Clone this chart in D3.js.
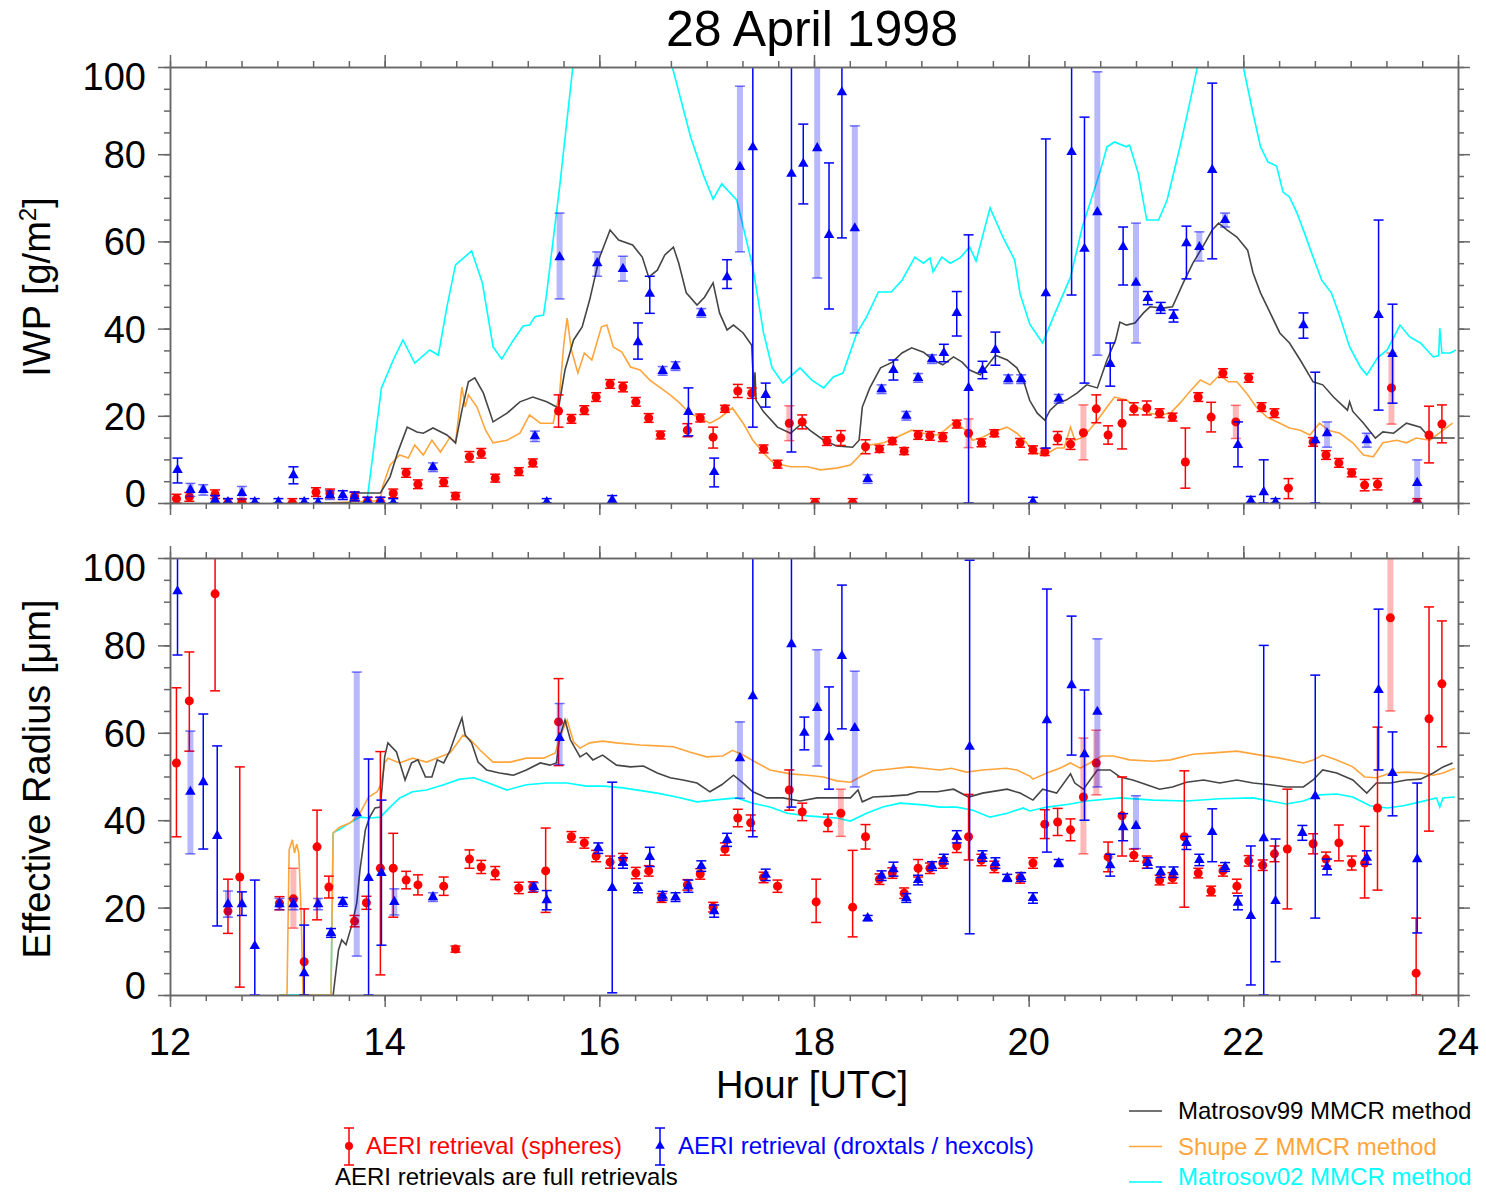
<!DOCTYPE html>
<html lang="en">
<head>
<meta charset="UTF-8">
<title>28 April 1998</title>
<script src="https://cdn.jsdelivr.net/npm/d3@7/dist/d3.min.js"></script>
<style>
  body { margin: 0; background: #fff; }
  svg { display: block; font-family: "Liberation Sans", Arial, Helvetica, sans-serif; }
  .ax path.domain, .ax line { stroke: #666; stroke-width: 1.5; }
</style>
</head>
<body>
<svg id="chart" width="1486" height="1192"></svg>
<script>
'use strict';

// ---- data ----
const hourTicks = [12, 14, 16, 18, 20, 22, 24];
const valueTicks = [0, 20, 40, 60, 80, 100];

// AERI points: [hour, value, low, high, wide bar flag]
const iwpSph = [
  [12.06,1,0,2],[12.18,1.4,0.4,2.4],[12.42,2,1,3],[12.54,0,0,1],[12.67,0.2,0,1],[13.14,0,0,1],
  [13.36,2.5,1.5,3.5],[13.49,2.2,1.2,3.2],[13.72,1.5,0.5,2.5],[13.84,0.3,0,1.3],[13.96,0.3,0,1.3],
  [14.08,2.2,1.2,3.2],[14.20,6.9,5.9,7.9],[14.31,4.3,3.3,5.3],[14.55,4.8,3.8,5.8],[14.66,1.6,0.8,2.4],
  [14.79,10.6,9.4,11.8],[14.90,11.4,10.3,12.5],[15.03,5.7,4.8,6.6],[15.25,7.2,6.3,8.1],[15.38,9.2,8.3,10.1],
  [15.62,21.1,17.4,24.8],[15.74,19.3,18.3,20.3],[15.86,21.3,20.3,22.3],[15.97,24.3,23.3,25.3],
  [16.10,27.3,26.3,28.3],[16.22,26.6,25.5,27.7],[16.34,23.2,22.2,24.2],[16.46,19.5,18.5,20.5],
  [16.57,15.6,14.7,16.5],[16.82,16.7,15.2,18.2],[16.94,19.5,18.6,20.4],[17.06,15.1,12.6,17.4],
  [17.17,21.6,20.8,22.4],[17.29,25.7,24.2,27.2],[17.42,25.2,24,26.4],[17.53,12.4,11.5,13.3],
  [17.66,8.9,8,9.8],[17.77,18.3,14.3,22.3,1],[17.89,18.6,17,20.2],[18.01,0,0,1],[18.12,14.2,13.2,15.2],
  [18.25,14.9,13.2,16.6],[18.36,0,0,1],[18.48,12.9,11.3,14.5],[18.61,12.4,11.6,13.2],[18.73,14.2,13.4,15],
  [18.84,11.9,11.1,12.7],[18.97,15.6,14.6,16.6],[19.08,15.4,14.4,16.4],[19.20,15.1,14.1,16.1],
  [19.33,18.1,17.2,19],[19.44,16,12.7,19.3,1],[19.56,13.8,12.9,14.7],[19.68,16,15.2,16.8],
  [19.92,13.8,12.8,14.8],[20.04,12.2,11.3,13.1],[20.15,11.7,10.9,12.5],[20.27,14.9,13.4,16.4],
  [20.39,13.5,12.3,14.7],[20.51,16.1,9.9,22.5,1],[20.63,21.6,18.4,24.8],[20.74,15.6,13.5,17.7],
  [20.87,18.3,12.4,23.6],[20.98,21.6,20.2,23],[21.10,21.8,20.2,23.4],[21.22,20.6,19.6,21.6],
  [21.34,19.7,18.8,20.6],[21.46,9.4,3.4,17.2],[21.58,24.3,23.3,25.3],[21.70,19.7,16.3,23.1],
  [21.81,29.8,28.8,30.8],[21.93,18.6,14.8,22.4,1],[22.05,28.7,27.7,29.7],[22.17,22,21,23],
  [22.29,20.6,19.6,21.6],[22.42,3.4,1,5.6],[22.65,14,13,15],[22.77,11,10,12],[22.89,9.2,8.2,10.2],
  [23.01,6.9,6,7.8],[23.13,4.1,2.8,5.4],[23.25,4.3,3,5.6],[23.38,26.4,18.1,34.4,1],[23.62,0,0,1],
  [23.73,15.6,9.2,22.2],[23.85,18.1,13.8,22.5]
];
const iwpDrox = [
  [12.07,7.6,4.6,10.3],[12.19,3,1.5,4.5,1],[12.31,3,1.8,4.2,1],[12.42,0.7,0,1.7],[12.54,0.2,0,1],
  [12.67,2.3,0.8,3.8,1],[12.79,0.2,0,1],[13.01,0.2,0,1],[13.15,6.4,4.4,8.3],[13.25,0.2,0,1],
  [13.38,0.1,0,1],[13.49,1.8,0.8,2.8,1],[13.61,1.8,0.8,2.8],[13.72,1.5,0.5,2.5],[13.84,0.3,0,1.3],
  [13.96,0.3,0,1.3],[14.08,0.1,0,1],[14.45,8.2,7.2,9.2,1],[15.40,15.3,14.1,16.5,1],[15.51,0.2,0,1],
  [15.63,56.4,46.8,66.5,1],[15.98,55,52,57.6,1],[16.12,0.7,0,1.7],[16.22,53.7,50.9,56.6,1],
  [16.36,36.9,33,41.3],[16.47,48,43.5,52],[16.59,30.3,29.3,31.3,1],[16.71,31.4,30.4,32.4,1],
  [16.83,20.9,15.4,26.4],[16.95,43.6,42.6,44.6,1],[17.07,7.1,3.7,10.3],[17.19,51.8,49.2,55.8],
  [17.31,77.1,57.6,95.6,1],[17.43,81.6,17.4,120],[17.55,24.8,22,27.5],[17.79,75.5,11.7,120],
  [17.90,77.8,68.6,86.9],[18.03,81.4,51.6,120,1],[18.14,61.5,44.5,78],[18.26,94.2,60.8,120],
  [18.38,63,39,86.5,1],[18.50,5.5,4.5,6.5,1],[18.63,26.1,25.1,27.1,1],[18.74,30.5,28.2,32.8],
  [18.86,20,19,21,1],[18.97,28.7,27.7,29.7,1],[19.10,33,32,34,1],[19.21,34.4,32.4,36.4],
  [19.33,43.6,38.3,48.5],[19.44,26.4,0,61.5],[19.57,30.5,28.5,32.5],[19.69,35.1,31.6,39.2],
  [19.81,28.4,27.4,29.4,1],[19.93,28.4,27.4,29.4,1],[20.04,0.3,0,1.3],[20.16,48.1,12.6,83.5],
  [20.28,23.9,22.9,24.9,1],[20.40,80.5,47.7,120],[20.52,58.3,27.5,88.5],[20.64,66.7,33.9,98.9,1],
  [20.76,31.9,26.8,36.7],[20.88,58.7,50,63.3],[21.00,50.5,36.7,64.2,1],[21.11,47,45.5,48.5],
  [21.23,44.7,43.5,46],[21.35,42.9,41.5,44.3],[21.47,59.6,51.4,63.5],[21.59,58.7,55.5,62.2,1],
  [21.71,76.4,56,96.3],[21.83,64.9,63.3,66.5,1],[21.95,13.3,8.3,18.6],[22.07,0.5,0,1.5],
  [22.19,2.5,0,9.9],[22.30,0.2,0,1],[22.56,40.8,37.8,43.6],[22.67,14.4,0,30],[22.78,16,12.8,18.6,1],
  [23.15,14.4,12.8,16,1],[23.26,43.1,21.3,64.9],[23.39,34.2,22.9,45.6],[23.62,4.6,0,9.9,1]
];
const reSph = [
  [12.06,53.1,36.2,70.3],[12.18,67.3,55.8,78.5],[12.42,91.8,69.6,120],[12.54,19.2,14.1,26.5],
  [12.65,27,1.8,52.2],[13.02,21,19.5,22.5],[13.15,22,15.3,29,1],[13.25,7.6,0,19.7],[13.37,33.9,17.2,42.3],
  [13.48,24.7,22.2,27.2],[13.72,16.9,15.6,18.2],[13.83,21.1,19.6,22.6],[13.96,29,4.6,55.7],
  [14.08,29,17.8,37],[14.20,26.3,24.3,28.3],[14.31,25.2,22.9,27.5],[14.55,24.9,22.8,27],
  [14.66,10.5,9.8,11.2],[14.79,31.1,29,33.2],[14.90,29.3,27.8,30.8],[15.03,27.9,26.4,29.4],
  [15.25,24.5,23.2,25.8],[15.38,24.7,23.5,25.9],[15.50,28.4,18.9,38.2],[15.62,62.5,52.5,72.4],
  [15.74,36.2,35,37.4],[15.86,34.8,33.6,36],[15.97,31.8,30.5,33.1],[16.10,30.4,29,31.8],
  [16.22,31.1,29.8,32.4],[16.34,27.9,26.6,29.2],[16.46,28.4,27.2,29.6],[16.58,22.2,21.2,23.2],
  [16.82,25.2,24,26.4],[16.94,27.7,26.5,28.9],[17.06,20.1,19,21.2],[17.17,33.4,32,34.8],
  [17.29,40.5,38.5,42.5],[17.41,39.4,37.6,41.2],[17.53,26.9,25.7,28.1],[17.66,24.9,23.5,26.3],
  [17.77,46.9,42.3,51.5],[17.89,41.9,39.9,43.9],[18.02,21.3,16.6,26.5],[18.13,39.4,37.4,41.4],
  [18.25,41.6,36.3,47.1,1],[18.36,20.1,13.3,33.1],[18.48,36.2,33.4,39],[18.61,26.5,25.3,27.7],
  [18.73,27.9,26.7,29.1],[18.84,23.3,22.1,24.5],[18.97,29,27,31],[19.08,29,27.8,30.2],
  [19.20,30.2,29,31.4],[19.33,34.1,32.6,35.6],[19.44,36.2,30.9,45.9],[19.56,30.9,29.6,32.2],
  [19.68,29.3,28,30.6],[19.92,26.8,25.6,28],[20.04,30.2,29,31.4],[20.15,39.1,35.8,42.4],
  [20.27,39.6,36.5,42.7],[20.39,37.8,35.3,40.3],[20.51,45.3,32.3,58.8,1],[20.63,53.1,45.8,60.6,1],
  [20.74,31.6,28.2,35],[20.87,41,31.8,49.9],[20.98,32,30.6,33.4],[21.10,30.4,29,31.8],
  [21.22,26.3,25.2,27.4],[21.34,26.8,25.6,28],[21.45,36.2,20.1,51.3],[21.58,27.9,26.8,29],
  [21.70,23.8,22.7,24.9],[21.81,28.4,27.2,29.6],[21.94,24.9,23.3,26.5],[22.05,30.7,29.5,31.9],
  [22.18,29.7,28.5,30.9],[22.29,32.3,30.5,34.1],[22.41,33.4,19.7,47.1],[22.65,34.6,32.3,36.9],
  [22.77,31.1,29.5,32.7],[22.89,34.8,30.7,38.9],[23.01,30.2,28.6,31.8],[23.13,30.2,22.2,38.6],
  [23.25,42.8,24,61.3],[23.37,86.3,65,120,1],[23.61,5,0,17.6],[23.73,63.2,37.5,88.8],[23.85,71.2,56.8,85.6]
];
const reDrox = [
  [12.07,92.4,77.8,120],[12.19,46.5,32.3,60.4,1],[12.31,48.7,33.4,64.3],[12.44,36.4,15.8,57],
  [12.54,20.8,17.8,23.8,1],[12.67,20.8,18.2,23.6],[12.79,11.2,0,26.3],[13.02,20.8,19.5,22.1,1],
  [13.15,20.8,19.5,22.1,1],[13.25,5,0,16],[13.38,20.8,19.5,22.1,1],[13.50,14.2,13.2,15.2],
  [13.61,21.3,20.3,22.3],[13.74,41.6,8.9,73.9,1],[13.85,26.8,0,54],[13.97,27.9,11.4,44.6],
  [14.09,21.3,18.3,24.3,1],[14.45,22.4,21.4,23.4,1],[15.39,24.7,23.7,25.7,1],[15.51,21.7,19.5,23.9],
  [15.63,58.8,52.7,66.7,1],[15.99,33.6,32.4,34.8],[16.12,24.5,0.5,48.7],[16.22,30.2,29,31.4],
  [16.36,24.5,23.4,25.6],[16.47,31.6,29.4,33.8],[16.59,22.7,21.7,23.7],[16.71,22.4,21.4,23.4],
  [16.83,24.9,23.5,26.3],[16.95,29.5,28.3,30.7],[17.07,19.2,17.8,20.6],[17.19,35.5,34,37],
  [17.31,54.2,45,62.5,1],[17.43,68.4,36.2,120],[17.55,27.5,26.2,28.8],[17.79,80.3,43,120],
  [17.91,60,56.1,63.6],[18.03,65.7,52.4,79,1],[18.14,59,47.1,70.5],[18.26,77.6,60.9,93.8],
  [18.38,61.1,47.6,74.1,1],[18.50,17.6,17,18.2],[18.63,27.3,26.2,28.4],[18.74,28.8,27.2,30.4],
  [18.86,22.2,21.2,23.2],[18.97,26.3,25.2,27.4],[19.10,29.5,28.5,30.5],[19.21,31.1,30,32.2],
  [19.33,36.2,34.8,37.6],[19.45,56.8,14,99.5],[19.57,31.8,30.6,33],[19.69,30.2,29,31.4],
  [19.80,26.8,26,27.6],[19.93,27,26,28],[20.04,22.2,21,23.4],[20.17,62.9,32.7,92.9],
  [20.28,30.2,29.4,31],[20.40,70.9,54.9,86.7],[20.52,55.1,40,69.8],[20.64,64.8,47.6,81.5,1],
  [20.76,29.7,27.2,32.2],[20.88,38.4,35.3,41.5],[21.00,38.7,33.5,45.6,1],[21.11,30.2,29,31.4],
  [21.23,28.1,26.9,29.3],[21.35,28.1,26.9,29.3],[21.47,34.8,33.3,36.3],[21.59,30.9,29.6,32.2],
  [21.71,37.3,30.5,42.6],[21.83,29.3,28.3,30.3],[21.95,21.1,19.5,22.7],[22.07,18.1,2.3,34.1],
  [22.19,35.9,0,80],[22.30,21.5,7.6,35.7],[22.55,37.1,35.4,38.8],[22.67,45.5,17.6,73.2],
  [22.78,29.3,27.5,31.1],[23.15,31.4,29.9,33],[23.26,69.8,51.5,88.3],[23.39,50.8,41,60.2],
  [23.62,31.1,14.2,48.5]
];

// MMCR retrievals: [hour, value]
const iwpM99 = [
  [13.43,0],[13.68,0],[13.70,2.3],[13.96,2.3],[14.05,6],[14.12,11.5],[14.21,17.4],[14.30,16.3],[14.36,16],
  [14.45,17.2],[14.58,15.6],[14.66,13.8],[14.72,21.3],[14.78,27.8],[14.84,28.7],[14.92,25.2],[15.01,18.6],
  [15.14,20.6],[15.26,23.2],[15.38,24.3],[15.51,23.2],[15.62,21.8],[15.68,30.5],[15.76,37.4],[15.84,40.4],
  [15.91,46.6],[16.00,56.2],[16.10,62.6],[16.18,60.3],[16.31,59.2],[16.40,56.4],[16.46,51.8],[16.54,53.4],
  [16.61,56.9],[16.69,58.7],[16.74,55],[16.81,48.2],[16.91,45.4],[16.98,47.2],[17.06,50.5],[17.12,43.6],
  [17.19,39.7],[17.25,40.8],[17.34,39],[17.42,36.2],[17.44,24.8],[17.45,30],[17.46,23.6],[17.53,20.9],
  [17.66,17.4],[17.78,16],[17.89,18.3],[17.96,16.7],[18.09,14.4],[18.21,13.1],[18.36,12.8],[18.42,14.4],
  [18.45,22],[18.52,26.4],[18.62,31],[18.73,32.3],[18.82,34.4],[18.91,35.6],[19.02,34.6],[19.11,32.8],
  [19.20,31.7],[19.30,33.5],[19.38,32.3],[19.45,30.5],[19.55,29.4],[19.64,32.3],[19.69,33.9],[19.80,32.8],
  [19.89,31],[19.95,28.2],[20.01,23.5],[20.08,20.6],[20.15,19],[20.20,21.3],[20.27,22.9],[20.35,23.6],
  [20.45,25.2],[20.54,27.1],[20.64,26.4],[20.73,32.8],[20.81,37.4],[20.85,41.5],[20.91,40.8],[20.99,41.3],
  [21.07,43.6],[21.13,45],[21.25,44.7],[21.34,45],[21.44,50.5],[21.53,55],[21.62,58.7],[21.71,62.6],
  [21.77,64.2],[21.85,62.6],[21.94,61],[22.04,58],[22.09,52.8],[22.16,48.2],[22.25,43.6],[22.34,39],
  [22.43,36.7],[22.53,32.8],[22.65,27.8],[22.74,27.1],[22.84,24.3],[22.97,21.3],[22.99,23.2],[23.02,21],
  [23.12,18.3],[23.23,14.9],[23.30,16.3],[23.40,16],[23.52,18.3],[23.65,17.4],[23.74,14.9],[23.97,14.9]
];
const iwpShupe = [
  [13.43,0],[13.96,0.5],[13.98,3.7],[14.05,8.7],[14.14,11],[14.22,10.3],[14.28,13.3],[14.36,11],[14.44,14.4],
  [14.52,11.7],[14.61,15.1],[14.66,13.8],[14.72,26.6],[14.75,22],[14.78,24.8],[14.86,22],[14.94,16.7],
  [15.01,13.8],[15.14,14.4],[15.26,16],[15.35,20.2],[15.45,18.3],[15.57,18.3],[15.63,25.2],[15.67,36.7],
  [15.70,42.4],[15.74,35.1],[15.80,29.8],[15.86,34.4],[15.93,32.8],[16.02,40.4],[16.07,40.8],[16.13,35.8],
  [16.21,34.6],[16.29,31.2],[16.38,30.5],[16.47,28.2],[16.57,26.4],[16.66,24.8],[16.75,22.9],[16.84,20.6],
  [16.94,19.5],[17.03,18.3],[17.12,19.5],[17.24,21.8],[17.34,18.3],[17.43,14.4],[17.53,11.5],[17.62,9.2],
  [17.78,8.3],[17.94,8.3],[18.06,7.6],[18.21,8],[18.34,8.7],[18.43,11],[18.52,13.3],[18.65,13.8],
  [18.77,15.1],[18.91,16.7],[19.02,16],[19.15,15.6],[19.22,16.7],[19.31,18.6],[19.41,16.7],[19.48,14.4],
  [19.57,15.1],[19.67,16.3],[19.80,17.4],[19.89,16],[19.98,13.8],[20.04,11.7],[20.15,11],[20.26,12.6],
  [20.33,12.6],[20.39,17.4],[20.43,14.4],[20.51,15.1],[20.64,19],[20.73,22],[20.80,24.3],[20.91,23.6],
  [21.01,22],[21.13,20.6],[21.22,20.2],[21.32,20.6],[21.41,22.9],[21.50,25.5],[21.60,28.2],[21.69,27.1],
  [21.78,29.4],[21.86,27.8],[21.94,27.8],[22.03,25.2],[22.12,22],[22.22,19.7],[22.34,18.3],[22.43,17.2],
  [22.53,16.7],[22.62,15.6],[22.71,18.3],[22.79,16.7],[22.90,16],[23.02,13.8],[23.12,11],[23.21,10.6],
  [23.30,13.8],[23.43,14.4],[23.52,13.8],[23.61,14.9],[23.74,14.4],[23.86,16.7],[23.95,18.3]
];
const iwpM02 = [
  [13.43,0],[13.80,0],[13.84,1.4],[13.97,26.4],[14.08,32.8],[14.17,37.4],[14.28,32.1],[14.42,35.1],
  [14.50,33.9],[14.58,45],[14.66,54.6],[14.81,57.8],[14.91,50.5],[15.01,35.8],[15.09,33],[15.20,37.4],
  [15.29,40.6],[15.35,40.8],[15.40,42.7],[15.48,43.1],[15.51,48.2],[15.63,72.5],[15.75,99.3],[15.85,120],
  [16.60,120],[16.68,100],[16.85,84],[16.97,75.2],[17.06,69.7],[17.14,73.2],[17.28,69.5],[17.43,54.1],
  [17.53,39],[17.61,31],[17.71,27.5],[17.87,31],[17.98,28.2],[18.09,26.4],[18.18,28.9],[18.27,29.8],
  [18.40,39],[18.49,42.7],[18.60,48.4],[18.72,48.4],[18.82,51.1],[18.94,56.4],[19.02,55],[19.08,56.2],
  [19.11,53],[19.19,56.4],[19.27,55],[19.36,56.2],[19.45,58.7],[19.51,55.5],[19.64,67.7],[19.76,61],
  [19.87,55.7],[19.92,48],[20.01,41],[20.13,36.7],[20.23,42.7],[20.39,51.8],[20.50,63.3],[20.59,70.2],
  [20.67,76.4],[20.73,81.7],[20.80,82.8],[20.91,81.7],[20.94,82.1],[21.02,75.7],[21.10,64.9],[21.21,64.9],
  [21.29,69.5],[21.41,81.7],[21.50,91.7],[21.57,99.8],[21.65,115],[21.92,115],[22.00,100],[22.09,89.4],
  [22.16,81.7],[22.23,78.2],[22.31,77.3],[22.37,71.3],[22.43,70.2],[22.50,66.5],[22.57,61.9],[22.65,56.4],
  [22.73,51.1],[22.82,48.2],[22.90,42.7],[22.99,35.8],[23.09,31.2],[23.15,29.4],[23.25,33.3],[23.34,35.1],
  [23.46,40.8],[23.55,38.1],[23.65,36.7],[23.77,33.5],[23.82,33.8],[23.83,40.1],[23.85,34.4],[23.93,34.4],
  [23.98,35.1]
];
const reM99 = [
  [13.52,0],[13.57,10.3],[13.60,12.6],[13.64,11.5],[13.70,16.5],[13.74,21.1],[13.77,28.6],[13.82,37.8],
  [13.86,40.7],[13.91,42.8],[13.96,43],[14.00,54.5],[14.03,57.7],[14.11,55.6],[14.19,49.2],[14.25,53.1],
  [14.31,53.8],[14.38,49.9],[14.44,49.9],[14.49,53.8],[14.55,53.1],[14.61,56],[14.67,60.2],[14.72,63.4],
  [14.75,59.5],[14.81,57.7],[14.87,53.3],[14.95,51.5],[15.07,50.8],[15.20,50.3],[15.32,51.5],[15.45,53.1],
  [15.54,52.6],[15.60,53.1],[15.63,59],[15.68,62.9],[15.73,58.4],[15.82,54.5],[15.88,55.4],[15.94,53.8],
  [16.03,54.9],[16.16,52.6],[16.29,52.2],[16.41,52.4],[16.54,50.8],[16.66,49.7],[16.78,49.2],[16.91,48.5],
  [17.03,46.5],[17.14,48.1],[17.25,50.3],[17.34,48.5],[17.43,46.5],[17.56,45.1],[17.71,45.1],[17.87,44.4],
  [18.03,45.1],[18.15,45.1],[18.34,45.1],[18.41,46.9],[18.45,44.2],[18.55,45.3],[18.71,45.5],[18.87,45.8],
  [18.97,46.5],[19.15,46.5],[19.30,47.1],[19.44,45.3],[19.57,46.2],[19.80,47.1],[19.92,46.2],[20.04,44.6],
  [20.13,47.1],[20.26,46.2],[20.39,50.6],[20.43,48.5],[20.51,47.1],[20.64,51.5],[20.76,51.5],[20.85,49.9],
  [20.97,49.2],[21.10,48.1],[21.22,47.1],[21.34,47.6],[21.47,48.7],[21.63,49.2],[21.78,48.5],[21.94,49.2],
  [22.09,48.5],[22.25,48.1],[22.40,47.6],[22.56,47.6],[22.65,49.2],[22.74,51.5],[22.87,50.8],[23.02,49.2],
  [23.15,46.2],[23.24,48.5],[23.37,48.5],[23.52,49.2],[23.65,49.4],[23.77,50.8],[23.86,52.2],[23.95,53.1]
];
const reShupe = [
  [13.02,0],[13.09,0],[13.11,33.2],[13.14,35.5],[13.16,32.5],[13.18,34.5],[13.20,32.5],[13.22,20],[13.24,0],
  [13.50,0],[13.52,37.1],[13.58,38.4],[13.68,39.4],[13.77,41.6],[13.85,45.3],[13.93,46.5],[13.97,48.5],
  [14.00,53.1],[14.03,54.2],[14.14,53.1],[14.26,54.2],[14.39,53.3],[14.52,54.5],[14.61,55.4],[14.70,58.4],
  [14.73,59.5],[14.80,58.4],[14.89,56],[15.01,53.3],[15.17,53.3],[15.32,54.2],[15.48,54.2],[15.59,55.4],
  [15.63,59],[15.70,62.9],[15.76,57.9],[15.82,56.5],[15.91,57.7],[16.03,58.1],[16.16,57.7],[16.38,57.2],
  [16.54,57],[16.69,56.8],[16.84,55.6],[17.00,54.5],[17.15,54.7],[17.24,56],[17.34,54.9],[17.47,53.1],
  [17.59,51.5],[17.78,50.6],[17.94,50.3],[18.09,49.9],[18.21,49],[18.34,48.7],[18.43,49.9],[18.55,51.3],
  [18.71,51.7],[18.89,52.2],[19.02,51.9],[19.17,51.5],[19.28,51.9],[19.42,51],[19.57,51.5],[19.79,51.9],
  [19.89,51.5],[20.01,50.1],[20.04,49.4],[20.17,50.8],[20.29,51.9],[20.39,53.1],[20.48,51.9],[20.57,53.1],
  [20.68,54.7],[20.79,54.7],[20.94,53.8],[21.16,53.5],[21.32,53.8],[21.53,55.1],[21.72,55.4],[21.94,55.8],
  [22.16,54.9],[22.34,54.2],[22.56,53.1],[22.65,53.8],[22.74,54.9],[22.87,53.8],[23.02,52.2],[23.13,49.9],
  [23.24,49.7],[23.37,50.8],[23.52,51],[23.65,50.8],[23.77,50.3],[23.86,50.8],[23.97,51.9]
];
const reM02 = [
  [13.02,0],[13.50,0],[13.52,37.1],[13.60,38.2],[13.69,39.6],[13.77,40.7],[13.86,40.5],[13.96,40.7],
  [14.05,43],[14.14,45.1],[14.26,46.5],[14.39,46.9],[14.55,48.1],[14.70,49.4],[14.83,49.7],[14.95,48.7],
  [15.14,46.9],[15.32,48.1],[15.51,48.5],[15.70,48.5],[15.88,47.8],[16.05,47.8],[16.22,47.4],[16.54,46.2],
  [16.72,45.3],[16.91,44.2],[17.06,44.6],[17.28,45.1],[17.43,43.9],[17.59,43],[17.75,41.6],[17.94,41],
  [18.09,40.7],[18.21,40.5],[18.34,39.8],[18.49,41.6],[18.64,43],[18.80,43.9],[19.02,43.5],[19.17,43],
  [19.33,43],[19.48,42.3],[19.64,40.7],[19.80,41.6],[19.95,42.8],[20.01,42.1],[20.17,43],[20.39,43.7],
  [20.54,44.4],[20.85,45.1],[21.16,44.6],[21.47,44.4],[21.78,44.9],[22.09,45.1],[22.40,43.7],[22.56,44.4],
  [22.71,45.8],[22.87,46],[23.02,45.3],[23.18,43.3],[23.34,42.8],[23.49,43.3],[23.65,44.2],[23.80,45.1],
  [23.83,43],[23.86,45.1],[23.97,45.3]
];

const C = { red: '#ff0000', blue: '#0000ff', m99: '#454545', shupe: '#ffa53c', m02: '#00ffff' };

// ---- drawing ----
const svg = d3.select('#chart');
const x = d3.scaleLinear().domain([12, 24]).range([170, 1458]);
const minorHours = d3.range(0, 37).map(i => 12 + i / 3);
const minorValues = d3.range(0, 101, 5);

const panels = [
  { id: 'iwp', y: d3.scaleLinear().domain([0, 100]).range([503, 67]),
    lines: [[iwpM02, C.m02], [iwpShupe, C.shupe], [iwpM99, C.m99]], sph: iwpSph, drox: iwpDrox, xlab: false },
  { id: 're', y: d3.scaleLinear().domain([0, 100]).range([995, 558]),
    lines: [[reM02, C.m02], [reShupe, C.shupe], [reM99, C.m99]], sph: reSph, drox: reDrox, xlab: true }
];

const defs = svg.append('defs');

function errBar(g, xp, y0, y1, color, wide) {
  if (wide) {
    g.append('rect').attr('x', xp - 3).attr('width', 6)
      .attr('y', Math.min(y0, y1)).attr('height', Math.abs(y1 - y0))
      .attr('fill', color).attr('fill-opacity', 0.28);
  } else {
    g.append('line').attr('x1', xp).attr('x2', xp).attr('y1', y0).attr('y2', y1)
      .attr('stroke', color).attr('stroke-width', 1.5);
  }
  [y0, y1].forEach(yy => g.append('line')
    .attr('x1', xp - 5).attr('x2', xp + 5).attr('y1', yy).attr('y2', yy)
    .attr('stroke', color).attr('stroke-width', 1.5).attr('stroke-opacity', wide ? 0.55 : 1));
}

panels.forEach(p => {
  const [yb, yt] = p.y.range();
  defs.append('clipPath').attr('id', 'clip-' + p.id)
    .append('rect').attr('x', 170).attr('y', yt).attr('width', 1288).attr('height', yb - yt);

  const plot = svg.append('g').attr('clip-path', `url(#clip-${p.id})`);

  const line = d3.line().x(d => x(d[0])).y(d => p.y(d[1]));
  p.lines.forEach(([data, color]) => {
    plot.append('path').datum(data).attr('d', line)
      .attr('fill', 'none').attr('stroke', color).attr('stroke-width', 1.6);
  });

  const gs = plot.append('g');
  p.sph.forEach(d => errBar(gs, x(d[0]), p.y(d[2]), p.y(d[3]), C.red, d[4]));
  gs.selectAll('circle').data(p.sph).join('circle')
    .attr('cx', d => x(d[0])).attr('cy', d => p.y(d[1])).attr('r', 4.5).attr('fill', C.red);

  const gd = plot.append('g');
  p.drox.forEach(d => errBar(gd, x(d[0]), p.y(d[2]), p.y(d[3]), C.blue, d[4]));
  gd.selectAll('path.tri').data(p.drox).join('path').attr('class', 'tri')
    .attr('d', d3.symbol(d3.symbolTriangle, 48))
    .attr('transform', d => `translate(${x(d[0])},${p.y(d[1])})`)
    .attr('fill', C.blue);

  // frame with outward ticks
  const axes = [
    [() => d3.axisBottom(x), `translate(0,${yb})`, hourTicks, minorHours],
    [() => d3.axisTop(x), `translate(0,${yt})`, hourTicks, minorHours],
    [() => d3.axisLeft(p.y), `translate(170,0)`, valueTicks, minorValues],
    [() => d3.axisRight(p.y), `translate(1458,0)`, valueTicks, minorValues]
  ];
  axes.forEach(([mk, tr, major, minor]) => {
    svg.append('g').attr('class', 'ax').attr('transform', tr)
      .call(mk().tickValues(minor).tickSize(6).tickSizeOuter(0).tickFormat(''));
    svg.append('g').attr('class', 'ax').attr('transform', tr)
      .call(mk().tickValues(major).tickSize(12).tickSizeOuter(0).tickFormat(''));
  });

  // y tick labels, kept inside the frame at the ends
  svg.append('g').selectAll('text').data(valueTicks).join('text')
    .attr('x', 146)
    .attr('y', d => Math.min(Math.max(p.y(d), yt + 9), yb - 10) + 14)
    .attr('text-anchor', 'end').attr('font-size', 38).text(d => d);

  if (p.xlab) {
    svg.append('g').selectAll('text').data(hourTicks).join('text')
      .attr('x', d => x(d)).attr('y', yb + 60)
      .attr('text-anchor', 'middle').attr('font-size', 38).text(d => d);
  }
});

// titles
svg.append('text').attr('x', 812).attr('y', 46).attr('text-anchor', 'middle')
  .attr('font-size', 50).text('28 April 1998');
svg.append('text').attr('x', 812).attr('y', 1098).attr('text-anchor', 'middle')
  .attr('font-size', 38).text('Hour [UTC]');

const yl1 = svg.append('text').attr('transform', 'translate(50,287) rotate(-90)')
  .attr('text-anchor', 'middle').attr('font-size', 38);
yl1.append('tspan').text('IWP [g/m');
yl1.append('tspan').attr('font-size', 24).attr('dy', -14).text('2');
yl1.append('tspan').attr('dy', 14).text(']');
svg.append('text').attr('transform', 'translate(50,779) rotate(-90)')
  .attr('text-anchor', 'middle').attr('font-size', 38).text('Effective Radius [\u03bcm]');

// legend
const leg = svg.append('g').attr('font-size', 24);
const ls = leg.append('g');
errBar(ls, 349, 1128, 1165, C.red, false);
ls.append('circle').attr('cx', 349).attr('cy', 1146).attr('r', 4).attr('fill', C.red);
errBar(ls, 660, 1128, 1165, C.blue, false);
ls.append('path').attr('d', d3.symbol(d3.symbolTriangle, 40))
  .attr('transform', 'translate(660,1146)').attr('fill', C.blue);
leg.append('text').attr('x', 366).attr('y', 1154).attr('fill', C.red).text('AERI retrieval (spheres)');
leg.append('text').attr('x', 678).attr('y', 1154).attr('fill', C.blue).text('AERI retrieval (droxtals / hexcols)');
leg.append('text').attr('x', 335).attr('y', 1185).attr('fill', '#000').text('AERI retrievals are full retrievals');

const methodNames = ['Matrosov99 MMCR method', 'Shupe Z MMCR method', 'Matrosov02 MMCR method'];
const methodColors = [C.m99, C.shupe, C.m02];
const textColors = ['#000', C.shupe, C.m02];
methodNames.forEach((name, i) => {
  const yy = 1111 + i * 35.5;
  leg.append('line').attr('x1', 1129).attr('x2', 1162).attr('y1', yy).attr('y2', yy)
    .attr('stroke', methodColors[i]).attr('stroke-width', 1.6);
  leg.append('text').attr('x', 1178).attr('y', Math.min(yy + 8, 1185)).attr('fill', textColors[i]).text(name);
});
</script>
</body>
</html>
